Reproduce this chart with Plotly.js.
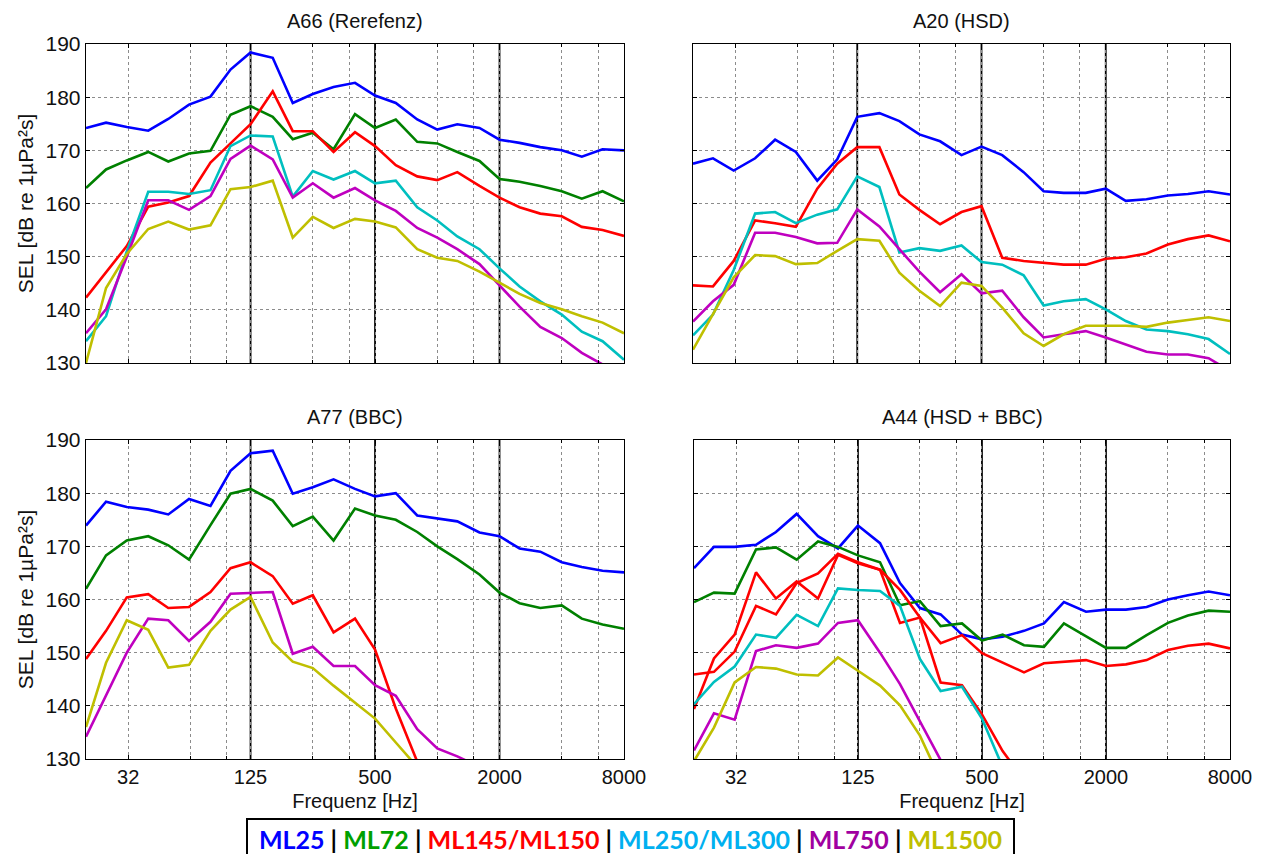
<!DOCTYPE html>
<html>
<head>
<meta charset="utf-8">
<script src="https://cdn.plot.ly/plotly-3.0.1.min.js"></script>
<style>html,body{margin:0;padding:0;background:#fff;}#chart{width:1270px;height:854px;}</style>
</head>
<body>
<div id="chart"></div>
<script>
// third-octave band centre frequencies (Hz)
const freqs = [20,25,31.5,40,50,63,80,100,125,160,200,250,315,400,500,630,800,1000,1250,1600,2000,2500,3150,4000,5000,6300,8000];
const xTickVals = [32,125,500,2000,8000];
const xTickText = ["32","125","500","2000","8000"];
const xMinorGrid = [64,96,250,375,1000,1500,4000,6000];
const xMajorLines = [125,500,2000];

const panelTitles = ["A66 (Rerefenz)","A20 (HSD)","A77 (BBC)","A44 (HSD + BBC)"];
const seriesNames = ["ML25","ML72","ML145/ML150","ML250/ML300","ML750","ML1500"];

// A66 (Rerefenz)
const a66_ML25  = [174.2,175.2,174.4,173.7,175.9,178.6,180.1,185.2,188.4,187.4,178.9,180.6,181.9,182.7,180.3,178.9,175.8,173.9,174.9,174.2,172.0,171.4,170.6,170.0,168.8,170.2,170.0];
const a66_ML72  = [162.9,166.4,168.1,169.7,167.9,169.4,169.9,176.7,178.3,176.3,172.1,173.3,170.2,176.8,174.2,175.8,171.6,171.3,169.7,168.0,164.6,164.1,163.3,162.3,160.9,162.3,160.4];
const a66_ML145 = [142.3,147.0,152.0,159.4,160.2,161.4,167.7,171.3,174.9,181.1,173.6,173.6,169.7,173.4,170.8,167.2,165.1,164.4,165.9,163.3,161.1,159.3,158.1,157.6,155.6,155.0,153.9];
const a66_ML250 = [134.1,138.8,151.0,162.2,162.2,161.8,162.5,170.8,172.8,172.6,161.3,166.1,164.5,166.1,163.8,164.3,159.3,156.8,153.8,151.4,147.8,144.4,141.6,139.1,135.9,134.1,130.6];
const a66_ML750 = [135.6,140.1,150.0,160.6,160.6,158.8,161.4,168.4,170.9,168.3,161.1,163.8,161.1,162.9,160.6,158.6,155.4,153.6,151.4,148.6,144.6,140.6,136.8,134.7,131.9,129.7,127.5];
const a66_ML1500= [130.0,144.1,150.5,155.2,156.6,155.1,155.9,162.7,163.1,164.3,153.6,157.5,155.4,157.1,156.6,155.5,151.4,149.8,149.2,147.2,145.1,143.0,141.3,140.1,138.8,137.6,135.6];

// A20 (HSD)
const a20_ML25  = [167.5,168.5,166.2,168.5,172.0,169.7,164.3,168.3,176.3,177.0,175.5,173.0,171.7,169.1,170.7,169.1,165.9,162.3,162.0,162.0,162.8,160.5,160.8,161.5,161.8,162.3,161.7];
const a20_ML145 = [144.6,144.4,149.2,156.8,156.3,155.6,162.8,167.5,170.6,170.6,161.7,158.8,156.1,158.4,159.5,149.8,149.2,148.8,148.5,148.5,149.6,149.9,150.6,152.3,153.3,154.0,152.9];
const a20_ML250 = [135.2,139.1,147.5,158.1,158.4,156.3,157.9,158.9,165.1,163.1,150.8,151.6,151.1,152.1,149.0,148.5,146.5,140.8,141.6,142.0,140.1,137.9,136.3,136.0,135.4,134.5,131.7];
const a20_ML750 = [137.8,141.6,144.7,154.5,154.5,153.7,152.5,152.6,158.9,155.7,151.4,147.2,143.3,146.7,143.1,143.6,138.6,134.8,135.4,136.0,134.8,133.4,132.1,131.6,131.6,130.9,128.5];
const a20_ML1500= [132.5,139.2,146.1,150.3,150.1,148.6,148.8,151.1,153.3,153.0,147.0,143.6,140.7,145.1,144.5,140.4,135.6,133.2,135.4,137.0,137.0,137.0,136.8,137.6,138.1,138.6,137.9];

// A77 (BBC)
const a77_ML25  = [173.9,178.4,177.4,176.9,176.0,178.9,177.6,184.2,187.5,188.0,179.9,181.1,182.6,180.8,179.4,180.0,175.8,175.3,174.7,172.6,171.9,169.6,169.0,167.0,166.1,165.4,165.1];
const a77_ML72  = [162.0,168.3,171.1,171.9,170.2,167.5,174.0,179.9,180.8,178.6,173.8,175.6,171.1,177.1,175.8,175.0,172.7,170.0,167.6,164.7,161.3,159.3,158.4,158.9,156.4,155.3,154.5];
const a77_ML145 = [148.8,154.1,160.4,161.0,158.4,158.6,161.4,165.9,167.0,164.4,159.2,160.8,153.8,156.4,150.6,139.5,129.5,null,null,null,null,null,null,null,null,null,null];
const a77_ML750 = [134.2,142.0,150.0,156.4,156.1,152.2,155.8,161.1,161.3,161.4,149.8,151.1,147.5,147.5,143.9,141.9,135.6,132.0,130.5,128.5,null,null,null,null,null,null,null];
const a77_ML1500= [136.0,148.1,156.1,154.3,147.2,147.7,154.1,158.1,160.5,151.9,148.3,147.1,143.8,140.6,137.6,133.1,128.5,null,null,null,null,null,null,null,null,null,null];

// A44 (HSD + BBC)
const a44_ML25  = [165.9,169.9,169.9,170.3,172.7,176.1,171.9,169.6,173.9,170.6,163.1,158.4,157.2,153.4,152.5,153.0,154.1,155.5,159.5,157.7,158.1,158.1,158.6,160.0,160.8,161.5,160.8];
const a44_ML72  = [159.5,161.3,161.1,169.4,169.8,167.5,170.9,169.9,168.3,167.0,158.9,159.7,155.0,155.5,152.3,153.4,151.4,151.1,155.5,153.1,150.9,150.9,153.3,155.6,157.0,157.9,157.7];
const a44_ML145 = [145.9,146.4,150.2,158.8,157.2,163.1,164.9,168.6,167.0,165.6,161.8,156.6,151.8,153.3,149.9,148.1,146.3,148.0,148.3,148.6,147.5,147.8,148.6,150.5,151.3,151.7,150.8];
const a44_ML150 = [139.4,148.9,153.4,165.1,160.2,163.4,160.2,168.4,166.8,165.6,155.6,156.6,144.4,143.9,138.4,131.5,126.0,null,null,null,null,null,null,null,null,null,null];
const a44_ML250 = [140.3,144.5,147.4,153.4,152.8,157.1,155.0,162.1,161.8,161.6,158.8,148.8,142.8,143.6,137.6,128.5,null,null,null,null,null,null,null,null,null,null,null];
const a44_ML750 = [131.6,138.6,137.4,150.3,151.4,150.9,151.7,155.6,156.1,150.0,144.1,137.0,129.8,null,null,null,null,null,null,null,null,null,null,null,null,null,null];
const a44_ML1500= [129.6,135.9,144.4,147.3,147.0,145.9,145.7,149.1,146.6,143.8,140.1,134.4,126.0,null,null,null,null,null,null,null,null,null,null,null,null,null,null];

const lineColors = {ML25:"#0000FF", ML72:"#008000", ML145:"#FF0000", ML250:"#00BFBF", ML750:"#BF00BF", ML1500:"#BFBF00"};
const legendColors = ["#0000FF","#00A000","#FF0000","#00B0F0","#A000A0","#BFBF00"];

const panels = [
  {ax:"", series:[["ML25",a66_ML25],["ML72",a66_ML72],["ML145",a66_ML145],["ML250",a66_ML250],["ML750",a66_ML750],["ML1500",a66_ML1500]]},
  {ax:"2", series:[["ML25",a20_ML25],["ML145",a20_ML145],["ML250",a20_ML250],["ML750",a20_ML750],["ML1500",a20_ML1500]]},
  {ax:"3", series:[["ML25",a77_ML25],["ML72",a77_ML72],["ML145",a77_ML145],["ML750",a77_ML750],["ML1500",a77_ML1500]]},
  {ax:"4", series:[["ML25",a44_ML25],["ML72",a44_ML72],["ML145",a44_ML145],["ML145",a44_ML150],["ML250",a44_ML250],["ML750",a44_ML750],["ML1500",a44_ML1500]]}
];

const traces = [];
panels.forEach(p => {
  p.series.forEach(([key, vals]) => {
    traces.push({
      x: freqs, y: vals, type: "scatter", mode: "lines",
      xaxis: "x" + p.ax, yaxis: "y" + p.ax,
      line: {color: lineColors[key], width: 2.6},
      connectgaps: false, showlegend: false, name: key, hoverinfo: "skip"
    });
  });
});

const FONT = "Liberation Sans, Arial, sans-serif";
const W = 1270, H = 854;
// plot boxes in pixels: [left, right, top, bottom]
const boxes = [[86,624,44,363],[693,1230,44,363],[86,624,440,759],[694,1230,440,759]];

function xAxis(i){
  const b = boxes[i];
  return {
    type: "log", range: [Math.log10(20), Math.log10(8000)],
    domain: [b[0]/W, b[1]/W], anchor: "y" + (i ? i+1 : ""),
    tickmode: "array", tickvals: xTickVals, ticktext: xTickText,
    showticklabels: i >= 2, ticks: "inside", ticklen: 4, tickcolor: "#000",
    showgrid: true, gridcolor: "#8c8c8c", griddash: "dot", gridwidth: 1,
    minor: {tickmode: "array", tickvals: xMinorGrid, showgrid: true, gridcolor: "#8c8c8c", griddash: "dot", gridwidth: 1, ticks: "inside", ticklen: 3, tickcolor: "#000"},
    showline: true, linecolor: "#000", linewidth: 1.3, mirror: "ticks",
    zeroline: false,
    tickfont: {family: FONT, size: 20, color: "#111"},
    title: i >= 2 ? {text: "Frequenz [Hz]", font: {family: FONT, size: 20, color: "#111"}, standoff: 6} : {text: ""},
    fixedrange: true
  };
}
function yAxis(i){
  const b = boxes[i];
  return {
    range: [130, 190], tickmode: "array", tickvals: [130,140,150,160,170,180,190],
    domain: [1 - b[3]/H, 1 - b[2]/H], anchor: "x" + (i ? i+1 : ""),
    showticklabels: i % 2 === 0, ticks: "inside", ticklen: 4, tickcolor: "#000",
    showgrid: true, gridcolor: "#8c8c8c", griddash: "dot", gridwidth: 1,
    showline: true, linecolor: "#000", linewidth: 1.3, mirror: "ticks",
    zeroline: false,
    tickfont: {family: FONT, size: 21, color: "#111"},
    title: i % 2 === 0 ? {text: "SEL [dB re 1µPa²s]", font: {family: FONT, size: 21, color: "#111"}, standoff: 6} : {text: ""},
    fixedrange: true
  };
}

const layout = {
  width: W, height: H, margin: {l:0, r:0, t:0, b:0},
  paper_bgcolor: "#fff", plot_bgcolor: "rgba(0,0,0,0)", showlegend: false,
  font: {family: FONT, color: "#111"},
  annotations: [], shapes: []
};
for (let i = 0; i < 4; i++) {
  const s = i ? String(i+1) : "";
  layout["xaxis" + s] = xAxis(i);
  layout["yaxis" + s] = yAxis(i);
  const b = boxes[i];
  layout.annotations.push({
    text: panelTitles[i], xref: "paper", yref: "paper",
    x: (b[0] + b[1]) / 2 / W, y: 1 - (b[2] - 10) / H, xanchor: "center", yanchor: "bottom",
    showarrow: false, font: {family: FONT, size: 20, color: "#111"}
  });
  xMajorLines.forEach(f => {
    layout.shapes.push({
      type: "line", xref: "x" + s, yref: "paper",
      x0: f, x1: f, y0: 1 - b[3] / H, y1: 1 - b[2] / H,
      line: {color: "#000", width: 1.8}, layer: "below"
    });
  });
}

const sep = ' <span style="color:#000">|</span> ';
const legendText = seriesNames.map((n, k) => '<span style="color:' + legendColors[k] + '">' + n + '</span>').join(sep);
layout.annotations.push({
  text: "<b>" + legendText + "</b>", xref: "paper", yref: "paper",
  x: 630.5 / W, y: 1 - 818 / H, xanchor: "center", yanchor: "top",
  showarrow: false, font: {family: "Lato, Open Sans, sans-serif", size: 25},
  bordercolor: "#000", borderwidth: 2, borderpad: 4, bgcolor: "#fff", width: 757
});

Plotly.newPlot("chart", traces, layout, {displayModeBar: false, staticPlot: true});
</script>
</body>
</html>
